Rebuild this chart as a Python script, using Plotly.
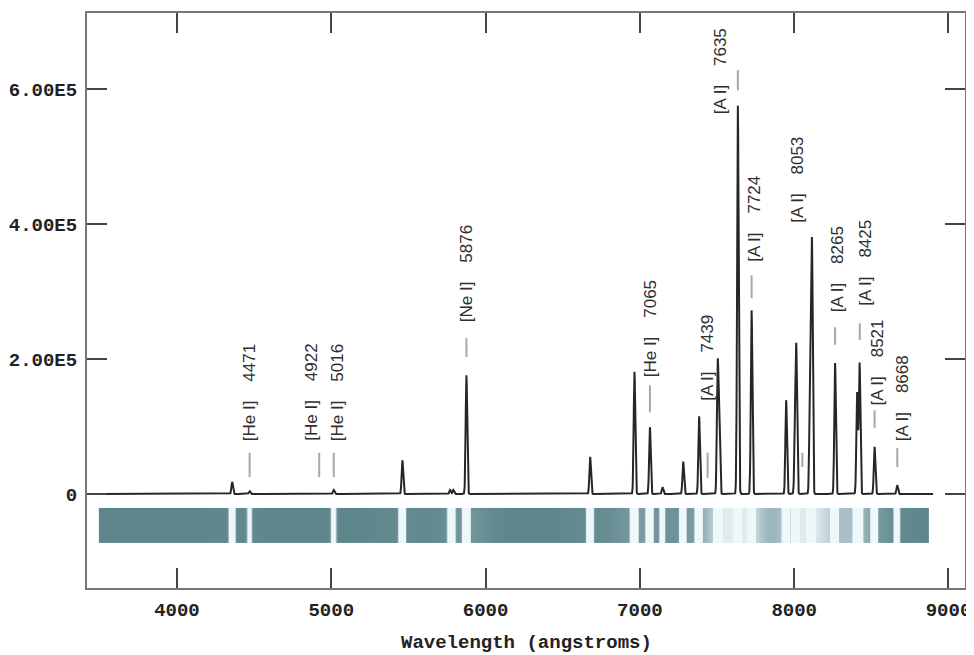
import numpy as np
import plotly.graph_objects as go

# ---------------- data ----------------
# emission lines (wavelength in angstroms, peak counts)
line_wl = [4358, 4471, 5016, 5461, 5770, 5791, 5876, 6678, 6965, 7065, 7147,
           7281, 7384, 7504, 7514, 7635, 7724, 7948, 8006, 8014, 8103, 8115,
           8265, 8408, 8424, 8521, 8668]
line_peak = [18000, 4000, 6000, 50000, 6000, 6000, 176000, 55000, 181000, 99000, 10000,
             48000, 115000, 185000, 100000, 575000, 272000, 139000, 90000, 194000, 154000, 372000,
             194000, 150000, 194000, 70000, 13000]

# labelled lines
label_ion = ["[He I]", "[He I]", "[He I]", "[Ne I]", "[He I]", "[A I]", "[A I]",
             "[A I]", "[A I]", "[A I]", "[A I]", "[A I]", "[A I]"]
label_wl = [4471, 4922, 5016, 5876, 7065, 7439, 7635, 7724, 8053, 8265, 8425, 8521, 8668]

x_ticks = [4000, 5000, 6000, 7000, 8000, 9000]
y_ticks = [0, 200000, 400000, 600000]
y_tick_labels = ["0", "2.00E5", "4.00E5", "6.00E5"]
x_title = "Wavelength (angstroms)"

# ---------------- label placement (layout) ----------------
dash_lo = [25000, 25000, 25000, 203000, 121000, 24000, 598000, 290000, 40000, 221000, 228000, 98000, 40000]
dash_hi = [61000, 61000, 61000, 231000, 161000, 61000, 628000, 324000, 61000, 247000, 253000, 124000, 68000]
text_base = [77000, 77000, 77000, 253000, 172000, 136000, 561000, 342000, 401000, 268000, 277000, 129000, 77000]
text_dx = [0, -8, 4, 0, 0, 0, -18, 3, -5, 2, 5, 3, 5]

# ---------------- build spectrum ----------------
wl = np.arange(3500, 8901, 1.0)
spec = np.zeros_like(wl)
for c, h in zip(line_wl, line_peak):
    spec += h * np.exp(-0.5 * ((wl - c) / 5.0) ** 2)

# strip image derived from the same lines
edges = np.arange(3494, 8878, 2.0)
centers = 0.5 * (edges[:-1] + edges[1:])
narrow = np.zeros_like(centers)
broad = np.zeros_like(centers)
for c, h in zip(line_wl, line_peak):
    narrow += h * np.exp(-0.5 * ((centers - c) / 9.0) ** 2)
    broad += h * np.exp(-0.5 * ((centers - c) / 110.0) ** 2)
zn = np.clip(np.log10(1 + narrow / 300.0) / 1.0, 0, 1)
zb = np.clip(broad / 900000.0, 0, 0.9)
z = np.maximum(zn, zb)[None, :]

fig = go.Figure()

fig.add_trace(go.Heatmap(
    x=edges, y=[-72600, -20700], z=z, zmin=0, zmax=1,
    colorscale=[[0, "#5e878b"], [0.35, "#7f9fa6"], [0.7, "#c3d4da"], [1, "#eef7f9"]],
    showscale=False, hoverinfo="skip"))

fig.add_trace(go.Scatter(
    x=wl, y=spec, mode="lines",
    line=dict(color="#262626", width=2), hoverinfo="skip", showlegend=False))

dx_, dy_ = [], []
for w, lo, hi in zip(label_wl, dash_lo, dash_hi):
    dx_ += [w, w, None]
    dy_ += [lo, hi, None]
fig.add_trace(go.Scatter(x=dx_, y=dy_, mode="lines",
                         line=dict(color="#a8a8a8", width=2),
                         hoverinfo="skip", showlegend=False))

gap = "\u00a0" * 4
for ion, w, yb, sx in zip(label_ion, label_wl, text_base, text_dx):
    fig.add_annotation(x=w, y=yb, text=f"{ion}{gap}{w}", showarrow=False,
                       textangle=-90, xanchor="center", yanchor="bottom",
                       xshift=sx, borderpad=0,
                       font=dict(family="Liberation Sans, Arial, sans-serif", size=17, color="#2e2e2e"))

axis_font = dict(family="Liberation Mono, Courier New, monospace", size=19, color="#222222")

fig.add_annotation(x=0.5, y=-0.0957, xref="paper", yref="paper", text=f"<b>{x_title}</b>",
                   showarrow=False, xanchor="center", yanchor="middle", font=axis_font)

# the page body adds an 8px offset; figure sized so the plot frame lands at 87..965 x 13..588
fig.update_layout(
    width=966, height=647,
    margin=dict(l=79, r=9, t=5, b=67),
    paper_bgcolor="white", plot_bgcolor="white",
    showlegend=False,
    xaxis=dict(range=[3417, 9107], tickvals=x_ticks, ticktext=[f"<b>{v}</b>" for v in x_ticks],
               ticks="inside", ticklen=20, tickwidth=1.5, tickcolor="#444444",
               showline=True, linecolor="#777777", linewidth=2, mirror="ticks",
               showgrid=False, zeroline=False, tickfont=axis_font,
               ticklabelstandoff=3, automargin=False),
    yaxis=dict(range=[-139300, 712600], tickvals=y_ticks,
               ticktext=[f"<b>{t}</b>" for t in y_tick_labels],
               ticks="inside", ticklen=20, tickwidth=1.5, tickcolor="#444444",
               showline=True, linecolor="#777777", linewidth=2, mirror="ticks",
               showgrid=False, zeroline=False, tickfont=axis_font, ticklabelstandoff=4,
               automargin=False),
)

fig.write_html("out.html")
